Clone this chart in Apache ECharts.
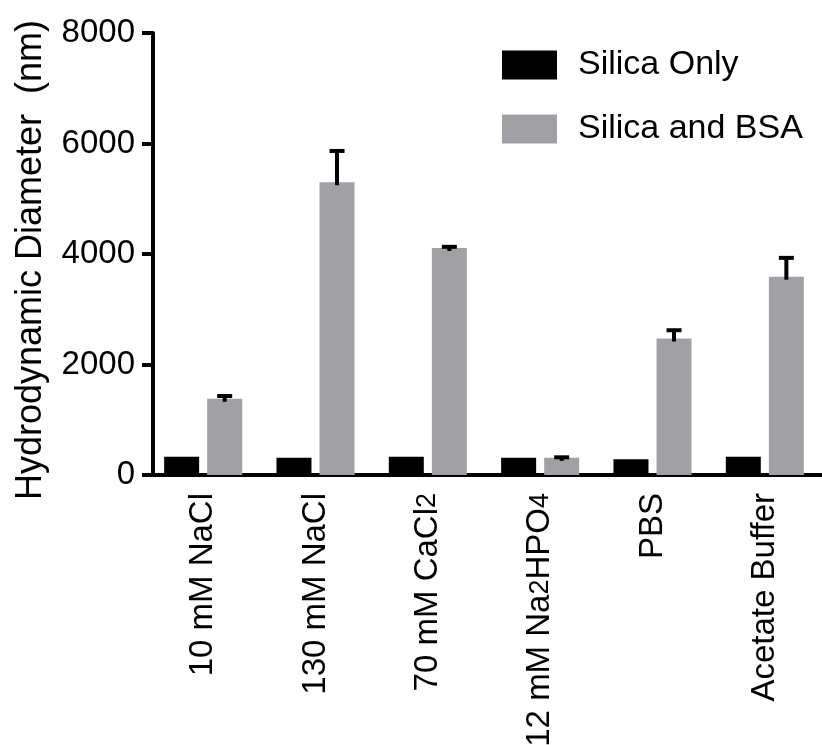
<!DOCTYPE html>
<html>
<head>
<meta charset="utf-8">
<script src="https://cdn.jsdelivr.net/npm/echarts@6/dist/echarts.min.js"></script>
<style>html,body{margin:0;padding:0;background:#fff;}#c{width:822px;height:745px;}</style>
</head>
<body>
<div id="c"></div>
<script>
const categories = ['10 mM NaCl', '130 mM NaCl', '70 mM CaCl2', '12 mM Na2HPO4', 'PBS', 'Acetate Buffer'];
const silicaOnly = [330, 310, 330, 310, 285, 330];
const silicaBSA = [1380, 5300, 4110, 310, 2470, 3590];
const silicaBSAErr = [50, 565, 20, 10, 150, 340];
const yTicks = [0, 2000, 4000, 6000, 8000];

const BAR_W = 35;
const GAP = 0.23;
const FONT = 'Liberation Sans, Arial, Helvetica, sans-serif';

const chart = echarts.init(document.getElementById('c'), null, {renderer: 'canvas'});
const errData = silicaBSA.map((v, i) => [i, v, silicaBSAErr[i]]);

chart.setOption({
  animation: false,
  backgroundColor: '#fff',
  textStyle: {fontFamily: FONT},
  grid: {left: 147, right: 1, top: 33, bottom: 270, outerBoundsMode: 'none', containLabel: false},
  legend: {
    orient: 'vertical', left: 497, top: 43,
    itemWidth: 55, itemHeight: 29, itemGap: 30,
    icon: 'rect',
    textStyle: {fontSize: 34, color: '#000', fontFamily: FONT, padding: [0, 0, 0, 16]},
    data: ['Silica Only', 'Silica and BSA']
  },
  xAxis: {
    type: 'category',
    data: categories,
    axisLine: {lineStyle: {color: '#000', width: 4}},
    axisTick: {alignWithLabel: true, length: 12, lineStyle: {color: '#000', width: 4}},
    axisLabel: {
      rotate: 90, margin: 18, fontSize: 33, color: '#000', fontFamily: FONT, interval: 0,
      formatter: v => v.replace(/([A-Za-z])(\d)/g, '$1{s|$2}'),
      rich: {s: {fontSize: 27, color: '#000', fontFamily: FONT}}
    }
  },
  yAxis: {
    type: 'value', min: 0, max: 8000, interval: 2000, offset: -6,
    name: 'Hydrodynamic Diameter  (nm)',
    nameLocation: 'middle', nameGap: 104, nameRotate: 90,
    nameTextStyle: {fontSize: 36, color: '#000', fontFamily: FONT, padding: [0, 12, 0, 0]},
    axisLine: {show: true, lineStyle: {color: '#000', width: 4}},
    axisTick: {show: true, length: 11, lineStyle: {color: '#000', width: 4}},
    axisLabel: {fontSize: 33, color: '#000', margin: 18, fontFamily: FONT,
      formatter: v => yTicks.includes(v) ? String(v) : ''},
    splitLine: {show: false}
  },
  series: [
    {name: 'Silica Only', type: 'bar', data: silicaOnly, barWidth: BAR_W, barGap: (GAP * 100) + '%',
      itemStyle: {color: '#000'}},
    {name: 'Silica and BSA', type: 'bar', data: silicaBSA, barWidth: BAR_W,
      itemStyle: {color: '#a1a1a5'}},
    {
      type: 'custom', data: errData, z: 10,
      encode: {x: 0, y: 1},
      renderItem: function (params, api) {
        const i = api.value(0), v = api.value(1), e = api.value(2);
        const off = (BAR_W + BAR_W * GAP) / 2;
        const b = api.coord([i, v]);
        const t = api.coord([i, v + e]);
        const x = b[0] + off;
        const style = {stroke: '#000', lineWidth: 4};
        return {
          type: 'group',
          children: [
            {type: 'line', shape: {x1: x, y1: b[1] + 3, x2: x, y2: t[1]}, style: style},
            {type: 'line', shape: {x1: x - 7.5, y1: t[1], x2: x + 7.5, y2: t[1]}, style: style}
          ]
        };
      }
    }
  ]
});
</script>
</body>
</html>
